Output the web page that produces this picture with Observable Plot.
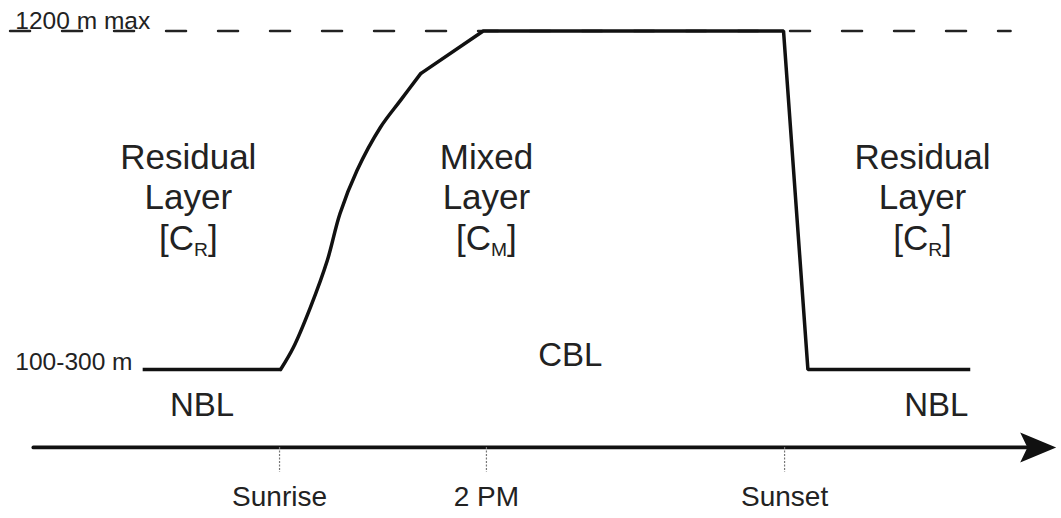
<!DOCTYPE html>
<html>
<head>
<meta charset="utf-8">
<script src="https://cdn.jsdelivr.net/npm/d3@7"></script>
<script src="https://cdn.jsdelivr.net/npm/@observablehq/plot@0.6"></script>
<style>
  html, body { margin: 0; padding: 0; background: #fff; }
  #chart svg { display: block; }
</style>
</head>
<body>
<div id="chart"></div>
<script>
// ---- data (schematic time units 0-100, height in metres) ----
// night (stable) boundary layer before sunrise
const nightBeforeT = [13.4, 26.4];
const nightBeforeH = [200, 200];
// morning growth of the convective layer (smooth S-shape)
const growthT = [26.4, 27.6, 29.2, 30.8, 32.0, 33.6, 35.8, 37.7, 39.6];
const growthH = [200, 265, 383, 522, 661, 788, 915, 995, 1074];
// late growth, daytime plateau, collapse at sunset, night layer
const dayT = [39.6, 45.5, 73.8, 76.1, 91.4];
const dayH = [1074, 1200, 1200, 200, 200];

const maxLevelH = 1200;
const maxLineT = [0.9, 95.2];

const eventNames = ["Sunrise", "2 PM", "Sunset"];
const eventT = [26.3, 45.8, 73.9];

const layerNames = ["Residual\nLayer\n[C_R]", "Mixed\nLayer\n[C_M]", "Residual\nLayer\n[C_R]"];
const layerT = [17.7, 45.8, 86.9];
const layerH = [711, 711, 711];

const zoneNames = ["NBL", "CBL", "NBL"];
const zoneT = [19.0, 53.7, 88.2];
const zoneH = [94, 241, 94];

const levelNames = ["1200 m max", "100-300 m"];
const levelT = [1.4, 1.4];
const levelH = [1228, 221];

const axisH = -30;
const axisT = [3.1, 97.0];
const arrowTipT = 99.5;
const tickEndH = -104;
const tickLabelH = -178;

// ---- tables built from arrays ----
const toPts = (ts, hs) => ts.map((t, i) => ({t, h: hs[i]}));
const events = eventNames.map((name, i) => ({name, t: eventT[i]}));
const layers = layerNames.map((name, i) => ({name, t: layerT[i], h: layerH[i]}));
const zones = zoneNames.map((name, i) => ({name, t: zoneT[i], h: zoneH[i]}));
const levels = levelNames.map((name, i) => ({name, t: levelT[i], h: levelH[i]}));

const arrowHead = {
  draw(ctx, size) {
    const s = Math.sqrt(size / Math.PI);
    ctx.moveTo(0, 0);
    ctx.lineTo(-s, -s * 15 / 36);
    ctx.lineTo(-s * 0.8, 0);
    ctx.lineTo(-s, s * 15 / 36);
    ctx.closePath();
  }
};

const ink = "#111";
const font = "'Liberation Sans', Arial, Helvetica, sans-serif";

const chart = Plot.plot({
  width: 1061,
  height: 518,
  margin: 0,
  x: {domain: [0, 100], axis: null},
  y: {domain: [-240, 1290], axis: null},
  style: {fontFamily: font, background: "#fff", color: ink},
  marks: [
    // dashed maximum level
    Plot.line(toPts(maxLineT, [maxLevelH, maxLevelH]), {x: "t", y: "h", stroke: "#222", strokeWidth: 2.5, strokeDasharray: "20,32"}),
    // boundary layer height
    Plot.line(toPts(nightBeforeT, nightBeforeH), {x: "t", y: "h", stroke: ink, strokeWidth: 3.5, strokeLinecap: "butt"}),
    Plot.line(toPts(growthT, growthH), {x: "t", y: "h", curve: "catmull-rom", stroke: ink, strokeWidth: 3.5}),
    Plot.line(toPts(dayT, dayH), {x: "t", y: "h", stroke: ink, strokeWidth: 3.5, strokeLinejoin: "miter", strokeLinecap: "butt"}),
    // time axis
    Plot.line(toPts(axisT, [axisH, axisH]), {x: "t", y: "h", stroke: ink, strokeWidth: 3.8}),
    Plot.dot([{t: arrowTipT, h: axisH}], {x: "t", y: "h", r: 36, symbol: arrowHead, fill: ink, stroke: "none"}),
    // event ticks
    Plot.ruleX(events, {x: "t", y1: axisH, y2: tickEndH, stroke: "#777", strokeWidth: 1.2, strokeDasharray: "2,1.5"}),
    Plot.text(events, {x: "t", y: tickLabelH, text: "name", fontSize: 28, fill: "#222", textAnchor: "middle", lineAnchor: "middle"}),
    // region labels
    Plot.text(layers, {x: "t", y: "h", text: "name", fontSize: 35, lineHeight: 1.15, fill: "#222", textAnchor: "middle", lineAnchor: "middle"}),
    Plot.text(zones, {x: "t", y: "h", text: "name", fontSize: 33, fill: "#222", textAnchor: "middle", lineAnchor: "middle"}),
    Plot.text(levels, {x: "t", y: "h", text: "name", fontSize: 24.5, fill: "#222", textAnchor: "start", lineAnchor: "middle"})
  ]
});

// render subscripts [C_R] / [C_M]
d3.select(chart).selectAll("tspan, text").each(function () {
  const el = this;
  if (el.childElementCount === 0) {
    const m = /^\[C_(\w)\]$/.exec(el.textContent);
    if (m) {
      el.textContent = "";
      const ns = "http://www.w3.org/2000/svg";
      el.appendChild(document.createTextNode("[C"));
      const sub = document.createElementNS(ns, "tspan");
      sub.setAttribute("font-size", "55%");
      sub.setAttribute("dy", "6");
      sub.textContent = m[1];
      el.appendChild(sub);
      const close = document.createElementNS(ns, "tspan");
      close.setAttribute("dy", "-6");
      close.textContent = "]";
      el.appendChild(close);
    }
  }
});

document.getElementById("chart").appendChild(chart);
</script>
</body>
</html>
